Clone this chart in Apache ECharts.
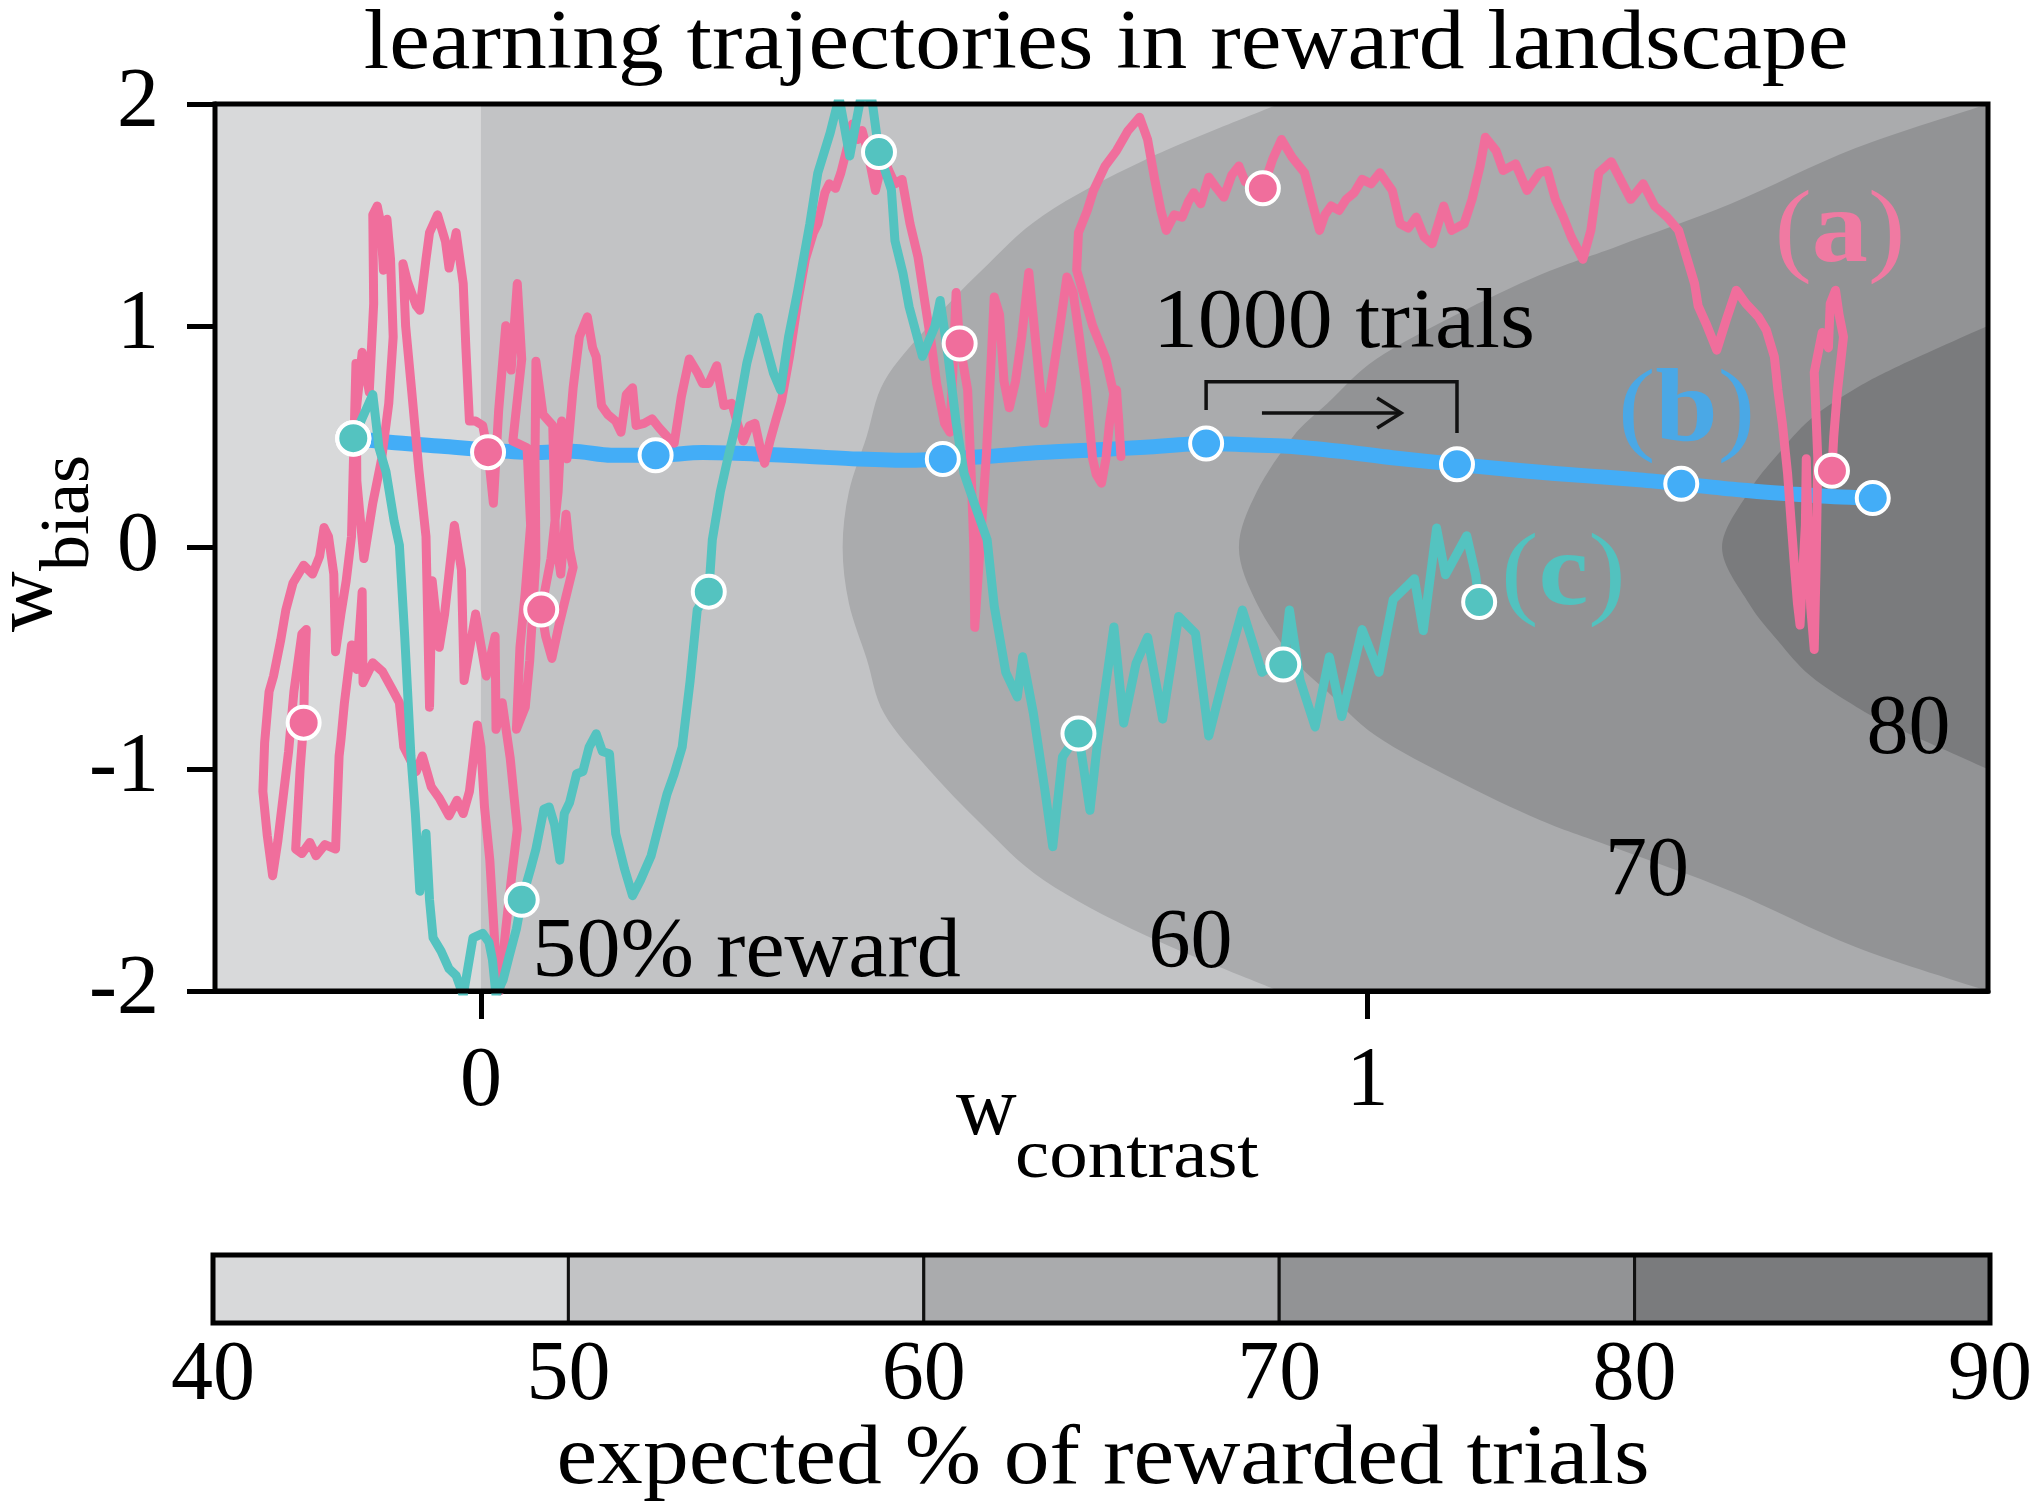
<!DOCTYPE html>
<html>
<head>
<meta charset="utf-8">
<title>learning trajectories in reward landscape</title>
<script src="https://cdn.jsdelivr.net/npm/echarts@6/dist/echarts.min.js"></script>
<style>
  html, body { margin: 0; padding: 0; background: #fff; }
  #main { width: 2040px; height: 1511px; }
</style>
</head>
<body>
<div id="main"></div>
<script>
var FONT = "'Liberation Serif', 'DejaVu Serif', serif"

// axis ranges and ticks
var xMin = -0.3, xMax = 1.7, yMin = -2, yMax = 2
var xTicks = [0, 1]
var yTicks = [-2, -1, 0, 1, 2]

// expected % of rewarded trials, one gray per band
var levels = [40, 50, 60, 70, 80, 90]
var levelColors = ['#d8d9da', '#c2c3c5', '#aaabad', '#929395', '#7a7b7d']

// contour lines, [w_contrast, w_bias]
var contour50 = [[0, -2], [0, 2]]
var contour60 = [[0.90, -2], [0.75, -1.75], [0.635, -1.5], [0.565, -1.25], [0.505, -1.0], [0.455, -0.75],
  [0.435, -0.5], [0.415, -0.25], [0.408, 0], [0.415, 0.25], [0.435, 0.5], [0.455, 0.75], [0.505, 1.0],
  [0.565, 1.25], [0.635, 1.5], [0.75, 1.75], [0.90, 2]]
var contour70 = [[1.70, -2], [1.55, -1.8], [1.41, -1.55], [1.283, -1.36], [1.195, -1.23], [1.10, -1.05],
  [1.01, -0.85], [0.955, -0.65], [0.916, -0.5], [0.875, -0.25], [0.855, 0], [0.875, 0.25], [0.916, 0.5],
  [0.955, 0.65], [1.01, 0.85], [1.10, 1.05], [1.195, 1.23], [1.283, 1.36], [1.41, 1.55], [1.55, 1.8], [1.70, 2]]
var contour80 = [[1.70, -1.0], [1.60, -0.82], [1.552, -0.72], [1.50, -0.58], [1.463, -0.42], [1.43, -0.25],
  [1.40, 0], [1.43, 0.25], [1.463, 0.42], [1.50, 0.58], [1.552, 0.72], [1.60, 0.82], [1.70, 1.0]]

// (b) smooth trajectory
var pathB = [[-0.144, 0.493], [-0.103, 0.475], [-0.044, 0.457], [0.007, 0.44], [0.059, 0.428], [0.103, 0.434],
  [0.147, 0.416], [0.197, 0.416], [0.25, 0.428], [0.308, 0.422], [0.367, 0.411], [0.426, 0.399], [0.485, 0.393],
  [0.521, 0.399], [0.573, 0.411], [0.631, 0.428], [0.69, 0.44], [0.749, 0.452], [0.818, 0.469], [0.866, 0.463],
  [0.91, 0.457], [0.969, 0.434], [1.028, 0.405], [1.101, 0.375], [1.175, 0.346], [1.248, 0.323], [1.307, 0.305],
  [1.354, 0.287], [1.424, 0.258], [1.483, 0.24], [1.527, 0.229], [1.57, 0.223]]
var marksB = [[-0.144, 0.493], [0.197, 0.416], [0.521, 0.399], [0.818, 0.469], [1.101, 0.375], [1.354, 0.287], [1.57, 0.223]]

// (c) noisy trajectory
var pathC = [[-0.144, 0.493], [-0.122, 0.69], [-0.115, 0.45], [-0.107, 0.34], [-0.098, 0.12], [-0.092, 0.01],
  [-0.086, -0.40], [-0.079, -0.94], [-0.074, -1.20], [-0.069, -1.55], [-0.062, -1.29], [-0.058, -1.59],
  [-0.054, -1.76], [-0.045, -1.82], [-0.036, -1.90], [-0.028, -1.93], [-0.020, -2.02], [-0.009, -1.76],
  [0.002, -1.74], [0.009, -1.78], [0.013, -1.86], [0.017, -2.02], [0.025, -1.95], [0.032, -1.84],
  [0.040, -1.72], [0.046, -1.589], [0.056, -1.45], [0.062, -1.36], [0.071, -1.18], [0.077, -1.17],
  [0.083, -1.25], [0.089, -1.41], [0.094, -1.20], [0.100, -1.15], [0.108, -1.02], [0.115, -1.01],
  [0.122, -0.90], [0.130, -0.84], [0.137, -0.92], [0.145, -0.93], [0.152, -1.29], [0.162, -1.45],
  [0.171, -1.57], [0.180, -1.50], [0.192, -1.39], [0.201, -1.25], [0.210, -1.11], [0.218, -1.02],
  [0.227, -0.90], [0.236, -0.60], [0.244, -0.28], [0.257, -0.199], [0.261, 0.035], [0.270, 0.25],
  [0.279, 0.411], [0.288, 0.563], [0.300, 0.833], [0.313, 1.038], [0.330, 0.786], [0.338, 0.71],
  [0.347, 0.95], [0.357, 1.15], [0.371, 1.46], [0.380, 1.689], [0.394, 1.871], [0.404, 2.03],
  [0.416, 1.765], [0.429, 2.04], [0.441, 2.02], [0.449, 1.783], [0.463, 1.613], [0.467, 1.384],
  [0.476, 1.238], [0.483, 1.085], [0.498, 0.862], [0.512, 0.997], [0.518, 1.114], [0.527, 0.862],
  [0.536, 0.563], [0.545, 0.334], [0.558, 0.182], [0.571, 0.035], [0.579, -0.264], [0.592, -0.563],
  [0.605, -0.674], [0.611, -0.493], [0.623, -0.745], [0.636, -1.091], [0.645, -1.349], [0.656, -0.944],
  [0.674, -0.839], [0.687, -1.185], [0.695, -0.897], [0.714, -0.358], [0.725, -0.792], [0.739, -0.522],
  [0.752, -0.405], [0.769, -0.774], [0.787, -0.311], [0.806, -0.387], [0.821, -0.85], [0.837, -0.598],
  [0.859, -0.282], [0.881, -0.563], [0.896, -0.522], [0.905, -0.528], [0.912, -0.282], [0.924, -0.598],
  [0.941, -0.809], [0.957, -0.493], [0.971, -0.762], [0.994, -0.37], [1.013, -0.563], [1.029, -0.235],
  [1.053, -0.141], [1.063, -0.375], [1.078, 0.088], [1.088, -0.123], [1.112, 0.053], [1.122, -0.123],
  [1.126, -0.246]]
var marksC = [[-0.144, 0.493], [0.046, -1.589], [0.257, -0.199], [0.449, 1.783], [0.674, -0.839], [0.905, -0.528], [1.126, -0.246]]

// (a) very noisy trajectory
var pathA = [[-0.144, 0.49], [-0.138, 0.72], [-0.134, 0.88], [-0.126, 0.70], [-0.121, 1.10], [-0.122, 1.50],
  [-0.117, 1.54], [-0.113, 1.46], [-0.110, 1.25], [-0.106, 1.48], [-0.102, 1.30], [-0.099, 0.95], [-0.104, 0.65],
  [-0.112, 0.40], [-0.122, 0.20], [-0.132, -0.05], [-0.140, 0.30], [-0.141, 0.83], [-0.146, 0.05], [-0.152, -0.15],
  [-0.158, -0.30], [-0.164, -0.47], [-0.166, -0.12], [-0.172, 0.05], [-0.177, 0.09], [-0.182, -0.04], [-0.190, -0.12],
  [-0.200, -0.08], [-0.212, -0.16], [-0.220, -0.28], [-0.226, -0.42], [-0.234, -0.58], [-0.239, -0.65],
  [-0.244, -0.88], [-0.246, -1.10], [-0.241, -1.30], [-0.235, -1.48], [-0.229, -1.32], [-0.223, -1.12],
  [-0.217, -0.92], [-0.211, -0.65], [-0.202, -0.39], [-0.197, -0.37], [-0.199, -0.58], [-0.200, -0.79],
  [-0.204, -1.00], [-0.209, -1.36], [-0.202, -1.38], [-0.193, -1.33], [-0.186, -1.39], [-0.176, -1.34],
  [-0.164, -1.36], [-0.160, -0.94], [-0.158, -0.87], [-0.154, -0.70], [-0.146, -0.44], [-0.140, -0.55],
  [-0.134, -0.20], [-0.133, -0.61], [-0.122, -0.52], [-0.111, -0.56], [-0.100, -0.64], [-0.092, -0.70],
  [-0.087, -0.90], [-0.073, -1.01], [-0.066, -0.94], [-0.056, -1.08], [-0.047, -1.13], [-0.036, -1.21],
  [-0.027, -1.14], [-0.020, -1.20], [-0.013, -1.10], [-0.004, -0.80], [0.000, -0.90], [0.004, -1.17],
  [0.010, -1.41], [0.017, -1.88], [0.021, -2.0], [0.028, -1.72], [0.035, -1.47], [0.041, -1.27],
  [0.033, -0.95], [0.024, -0.70], [0.017, -0.82], [0.016, -0.40], [0.006, -0.58], [-0.006, -0.30],
  [-0.019, -0.60], [-0.022, -0.10], [-0.030, 0.10], [-0.041, -0.30], [-0.047, -0.45], [-0.055, -0.15],
  [-0.058, -0.72], [-0.062, 0.05], [-0.070, 0.35], [-0.078, 0.70], [-0.085, 1.00], [-0.088, 1.28],
  [-0.083, 1.20], [-0.073, 1.09], [-0.069, 1.07], [-0.062, 1.30], [-0.058, 1.42], [-0.049, 1.50],
  [-0.040, 1.38], [-0.036, 1.26], [-0.028, 1.42], [-0.020, 1.19], [-0.017, 0.90], [-0.013, 0.57],
  [-0.006, 0.57], [0.002, 0.55], [0.008, 0.43],
  [0.014, 0.20], [0.020, 0.62], [0.028, 1.00], [0.034, 0.80], [0.041, 1.19], [0.046, 0.85], [0.036, 0.48],
  [0.052, 0.45], [0.056, 0.10], [0.050, -0.20], [0.044, -0.45], [0.040, -0.82], [0.050, -0.72], [0.055, -0.51],
  [0.062, -0.05], [0.061, 0.40], [0.062, 0.84], [0.070, 0.60], [0.081, 0.55], [0.084, 0.05], [0.090, -0.12],
  [0.096, 0.15], [0.100, -0.01], [0.104, -0.09], [0.088, -0.35], [0.080, -0.50], [0.073, -0.40],
  [0.068, -0.28],
  [0.079, -0.05], [0.087, 0.25], [0.091, 0.57], [0.097, 0.40], [0.104, 0.72], [0.111, 0.95], [0.120, 1.04],
  [0.126, 0.90], [0.130, 0.86], [0.136, 0.64], [0.143, 0.60], [0.152, 0.57], [0.158, 0.52], [0.164, 0.69],
  [0.171, 0.72], [0.175, 0.55], [0.184, 0.56], [0.193, 0.58], [0.201, 0.54], [0.210, 0.50], [0.218, 0.47],
  [0.226, 0.68], [0.235, 0.85], [0.244, 0.79], [0.250, 0.74], [0.257, 0.74], [0.266, 0.82], [0.274, 0.64],
  [0.283, 0.65], [0.290, 0.55], [0.296, 0.48], [0.303, 0.55], [0.309, 0.56], [0.315, 0.45], [0.320, 0.38],
  [0.326, 0.48], [0.333, 0.58], [0.339, 0.66], [0.348, 0.86], [0.357, 1.10], [0.366, 1.30], [0.375, 1.42],
  [0.380, 1.46], [0.388, 1.60], [0.393, 1.64], [0.400, 1.62], [0.406, 1.69], [0.413, 1.80], [0.419, 1.91],
  [0.425, 1.84], [0.430, 1.88], [0.436, 1.79], [0.445, 1.61], [0.454, 1.76], [0.460, 1.70], [0.467, 1.64],
  [0.475, 1.66], [0.484, 1.46], [0.493, 1.31], [0.501, 1.10], [0.508, 0.92], [0.514, 0.74], [0.523, 0.56],
  [0.529, 0.52], [0.533, 0.85], [0.536, 1.15], [0.540, 0.92],
  [0.549, 0.71], [0.553, 0.33], [0.556, 0.00], [0.557, -0.36], [0.563, 0.00], [0.570, 0.41], [0.575, 0.80],
  [0.579, 1.13], [0.585, 1.05], [0.590, 0.75], [0.596, 0.63], [0.603, 0.75], [0.610, 0.95], [0.618, 1.24],
  [0.624, 1.00], [0.630, 0.75], [0.635, 0.56], [0.642, 0.70], [0.648, 0.86], [0.655, 1.05], [0.661, 1.22],
  [0.668, 1.15], [0.675, 0.95], [0.683, 0.71], [0.690, 0.40], [0.694, 0.33], [0.700, 0.29], [0.705, 0.40],
  [0.709, 0.56], [0.714, 0.70], [0.717, 0.71], [0.722, 0.41], [0.719, 0.60], [0.705, 0.85], [0.690, 1.00],
  [0.672, 1.25], [0.674, 1.42], [0.684, 1.52], [0.691, 1.61], [0.704, 1.72], [0.717, 1.79], [0.730, 1.88],
  [0.743, 1.94], [0.752, 1.84], [0.760, 1.66], [0.767, 1.52], [0.773, 1.43], [0.782, 1.50], [0.791, 1.49],
  [0.798, 1.56], [0.804, 1.60], [0.812, 1.55], [0.821, 1.67], [0.830, 1.62], [0.838, 1.58], [0.847, 1.68],
  [0.855, 1.72], [0.862, 1.65], [0.870, 1.64], [0.882, 1.62],
  [0.893, 1.75], [0.903, 1.84], [0.915, 1.76], [0.929, 1.69], [0.938, 1.55], [0.946, 1.43], [0.952, 1.50],
  [0.959, 1.54], [0.968, 1.52], [0.976, 1.57], [0.985, 1.60], [0.994, 1.66], [1.004, 1.64], [1.014, 1.69],
  [1.028, 1.61], [1.037, 1.46], [1.046, 1.44], [1.055, 1.49], [1.064, 1.40], [1.073, 1.37], [1.086, 1.54],
  [1.095, 1.43], [1.109, 1.46], [1.118, 1.57], [1.127, 1.72], [1.133, 1.85], [1.145, 1.79], [1.153, 1.70],
  [1.167, 1.73], [1.180, 1.61], [1.194, 1.69], [1.203, 1.70], [1.212, 1.57], [1.221, 1.49], [1.230, 1.40],
  [1.243, 1.30], [1.252, 1.43], [1.261, 1.69], [1.275, 1.74], [1.284, 1.67], [1.297, 1.57], [1.311, 1.64],
  [1.324, 1.54], [1.338, 1.49], [1.351, 1.43], [1.360, 1.31], [1.369, 1.19], [1.373, 1.09], [1.382, 1.01],
  [1.394, 0.89], [1.405, 1.03], [1.416, 1.16], [1.427, 1.10], [1.441, 1.04], [1.450, 0.98], [1.459, 0.86],
  [1.463, 0.71], [1.468, 0.56], [1.474, 0.33], [1.478, 0.11], [1.482, -0.10], [1.485, -0.25], [1.488, -0.35],
  [1.490, -0.19], [1.494, 0.10], [1.495, 0.40], [1.497, 0.10], [1.500, -0.27], [1.504, -0.46], [1.506, -0.10],
  [1.508, 0.40], [1.504, 0.79], [1.513, 0.97], [1.520, 0.90], [1.522, 1.10], [1.528, 1.16], [1.532, 1.05],
  [1.537, 0.95], [1.530, 0.70], [1.526, 0.50], [1.524, 0.346]]
var marksA = [[-0.144, 0.49], [-0.200, -0.79], [0.008, 0.43], [0.068, -0.28], [0.540, 0.92], [0.882, 1.62], [1.524, 0.346]]

var colA = '#f06e9c', colB = '#43adf7', colC = '#54c3c0'

var regions = [[[xMin, yMin], [xMin, yMax]], contour50, contour60, contour70, contour80]

// outline of one band: the contour drawn as a smooth curve, closed along the right edge
function regionPath(line, api) {
  var p = line.map(function (q) { return api.coord(q) })
  var d = 'M' + p[0][0] + ' ' + p[0][1]
  for (var i = 0; i < p.length - 1; i++) {
    var a = p[Math.max(i - 1, 0)], b = p[i], c = p[i + 1], e = p[Math.min(i + 2, p.length - 1)]
    d += ' C' + (b[0] + (c[0] - a[0]) / 6) + ' ' + (b[1] + (c[1] - a[1]) / 6) + ' ' +
      (c[0] - (e[0] - b[0]) / 6) + ' ' + (c[1] - (e[1] - b[1]) / 6) + ' ' + c[0] + ' ' + c[1]
  }
  var r1 = api.coord([xMax, line[line.length - 1][1]]), r0 = api.coord([xMax, line[0][1]])
  d += ' L' + r1[0] + ' ' + r1[1] + ' L' + r0[0] + ' ' + r0[1] + ' Z'
  return d
}

function pathSeries(name, data, color, width, z, smooth) {
  return {
    name: name, type: 'line', data: data, xAxisIndex: 0, yAxisIndex: 0,
    showSymbol: false, symbol: 'none', smooth: smooth || false, clip: true, silent: true, z: z,
    lineStyle: { color: color, width: width, cap: 'round', join: 'round' }
  }
}

function markSeries(data, color) {
  return {
    type: 'scatter', data: data, xAxisIndex: 0, yAxisIndex: 0, symbolSize: 32, silent: true, z: 8,
    itemStyle: { color: color, borderColor: '#fff', borderWidth: 4, opacity: 1 }
  }
}

var chart = echarts.init(document.getElementById('main'))

var option = {
  backgroundColor: '#fff',
  animation: false,
  textStyle: { fontFamily: FONT },
  grid: [
    { left: 215, top: 104, width: 1773, height: 887, outerBoundsMode: 'none' },
    { left: 213, top: 1255, width: 1777, height: 68, outerBoundsMode: 'none' }
  ],
  xAxis: [
    {
      type: 'value', gridIndex: 0, min: xMin, max: xMax,
      axisLine: { show: true, onZero: false, lineStyle: { color: '#000', width: 5 } },
      axisTick: { show: true, inside: false, length: 28, customValues: xTicks, lineStyle: { color: '#000', width: 5 } },
      axisLabel: { customValues: xTicks, margin: 50, fontFamily: FONT, fontSize: 84, color: '#000' },
      splitLine: { show: false }
    },
    {
      type: 'value', gridIndex: 1, min: levels[0], max: levels[levels.length - 1], interval: 10,
      axisLine: { show: false }, axisTick: { show: false }, splitLine: { show: false },
      axisLabel: { margin: 12, fontFamily: FONT, fontSize: 84, color: '#000', showMinLabel: true, showMaxLabel: true }
    }
  ],
  yAxis: [
    {
      type: 'value', gridIndex: 0, min: yMin, max: yMax,
      axisLine: { show: true, onZero: false, lineStyle: { color: '#000', width: 5 } },
      axisTick: { show: true, inside: false, length: 28, customValues: yTicks, lineStyle: { color: '#000', width: 5 } },
      axisLabel: { customValues: yTicks, margin: 56, fontFamily: FONT, fontSize: 84, color: '#000' },
      splitLine: { show: false }
    },
    { type: 'value', gridIndex: 1, min: 0, max: 1, show: false }
  ],
  series: [
    {
      // reward landscape bands
      type: 'custom', xAxisIndex: 0, yAxisIndex: 0, silent: true, z: 1,
      data: regions.map(function () { return [0, 0] }),
      renderItem: function (params, api) {
        return {
          type: 'path', shape: { pathData: regionPath(regions[params.dataIndex], api) },
          style: { fill: levelColors[params.dataIndex], stroke: null }
        }
      }
    },
    pathSeries('(b)', pathB, colB, 15, 3, 0.3),
    pathSeries('(a)', pathA, colA, 9, 4),
    pathSeries('(c)', pathC, colC, 9, 5),
    {
      // "1000 trials" bracket with arrow
      type: 'custom', xAxisIndex: 0, yAxisIndex: 0, silent: true, z: 6, data: [[0, 0]],
      renderItem: function (params, api) {
        var s = marksB[3], e = marksB[4]
        var b = [api.coord([s[0], 0.62]), api.coord([s[0], 0.747]), api.coord([e[0], 0.747]), api.coord([e[0], 0.516])]
        var a0 = api.coord([0.881, 0.607]), a1 = api.coord([1.038, 0.607])
        var st = { stroke: '#111', lineWidth: 3.5, fill: null }
        return {
          type: 'group', children: [
            { type: 'polyline', shape: { points: b }, style: st },
            { type: 'line', shape: { x1: a0[0], y1: a0[1], x2: a1[0], y2: a1[1] }, style: st },
            { type: 'polyline', shape: { points: [[a1[0] - 24, a1[1] - 15], [a1[0], a1[1]], [a1[0] - 24, a1[1] + 15]] }, style: st }
          ]
        }
      }
    },
    markSeries(marksA, colA),
    markSeries(marksB, colB),
    markSeries(marksC, colC),
    {
      // frame around the landscape
      type: 'custom', xAxisIndex: 0, yAxisIndex: 0, silent: true, z: 10, data: [[0, 0]],
      renderItem: function (params, api) {
        var p0 = api.coord([xMin, yMax]), p1 = api.coord([xMax, yMin])
        return { type: 'rect', shape: { x: p0[0], y: p0[1], width: p1[0] - p0[0], height: p1[1] - p0[1] },
          style: { fill: null, stroke: '#000', lineWidth: 5 } }
      }
    },
    {
      // colorbar cells
      type: 'custom', xAxisIndex: 1, yAxisIndex: 1, silent: true, z: 2,
      data: levelColors.map(function () { return [levels[0], 0] }),
      renderItem: function (params, api) {
        var i = params.dataIndex
        var p0 = api.coord([levels[i], 1]), p1 = api.coord([levels[i + 1], 0])
        return { type: 'rect', shape: { x: p0[0], y: p0[1], width: p1[0] - p0[0], height: p1[1] - p0[1] },
          style: { fill: levelColors[i], stroke: '#111', lineWidth: 3 } }
      }
    },
    {
      type: 'custom', xAxisIndex: 1, yAxisIndex: 1, silent: true, z: 3, data: [[levels[0], 0]],
      renderItem: function (params, api) {
        var p0 = api.coord([levels[0], 1]), p1 = api.coord([levels[levels.length - 1], 0])
        return { type: 'rect', shape: { x: p0[0], y: p0[1], width: p1[0] - p0[0], height: p1[1] - p0[1] },
          style: { fill: null, stroke: '#000', lineWidth: 5 } }
      }
    }
  ]
}

chart.setOption(option)

// texts; baseline positions are converted to the centre line used by the renderer
function txt(x, baseline, str, size, o) {
  o = o || {}
  var rot = o.rotation || 0
  var off = 0.235 * size
  return {
    type: 'text', silent: true, z: 100,
    x: rot ? x - off : x, y: rot ? baseline : baseline - off,
    rotation: rot, scaleX: o.scaleX || 1,
    style: {
      text: str, x: 0, y: 0, fill: o.color || '#000',
      fontFamily: FONT, fontSize: size, fontWeight: o.weight || 'normal',
      align: o.align || 'left', verticalAlign: 'middle',
      textAlign: o.align || 'left', textVerticalAlign: 'middle',
      rich: o.rich
    }
  }
}

function at(p) { return chart.convertToPixel({ gridIndex: 0 }, p) }

function tag(p, letter, color) {
  var q = at(p)
  var r = {
    p: { fontFamily: FONT, fontSize: 104, fill: color },
    l: { fontFamily: FONT, fontSize: 104, fontWeight: 'bold', fill: color }
  }
  return txt(q[0], q[1], '{p|(}{l|' + letter + '}{p|)}', 104, { align: 'center', color: color, rich: r, scaleX: 1.08 })
}

var pTrials = at([0.758, 0.914]), p50 = at([0.058, -1.923]), p60 = at([0.753, -1.882])
var p70 = at([1.268, -1.557]), p80 = at([1.563, -0.917])

chart.setOption({
  graphic: [
    txt(1106, 66, 'learning trajectories in reward landscape', 84, { align: 'center', scaleX: 1.09 }),
    txt(956, 1132, 'w', 84),
    txt(1015, 1175, 'contrast', 70, { scaleX: 1.1 }),
    txt(49, 632, 'w', 84, { rotation: Math.PI / 2 }),
    txt(86, 571, 'bias', 70, { rotation: Math.PI / 2, scaleX: 1.03 }),
    txt(1103, 1481, 'expected % of rewarded trials', 84, { align: 'center', scaleX: 1.09 }),
    txt(pTrials[0], pTrials[1], '1000 trials', 84, { scaleX: 1.07 }),
    txt(p50[0], p50[1], '50% reward', 84, { scaleX: 1.05 }),
    txt(p60[0], p60[1], '60', 84),
    txt(p70[0], p70[1], '70', 84),
    txt(p80[0], p80[1], '80', 84),
    tag([1.533, 1.302], 'a', '#f07aa2'),
    tag([1.360, 0.495], 'b', '#4aa8e6'),
    tag([1.221, -0.245], 'c', '#52c2bf')
  ]
})
</script>
</body>
</html>
